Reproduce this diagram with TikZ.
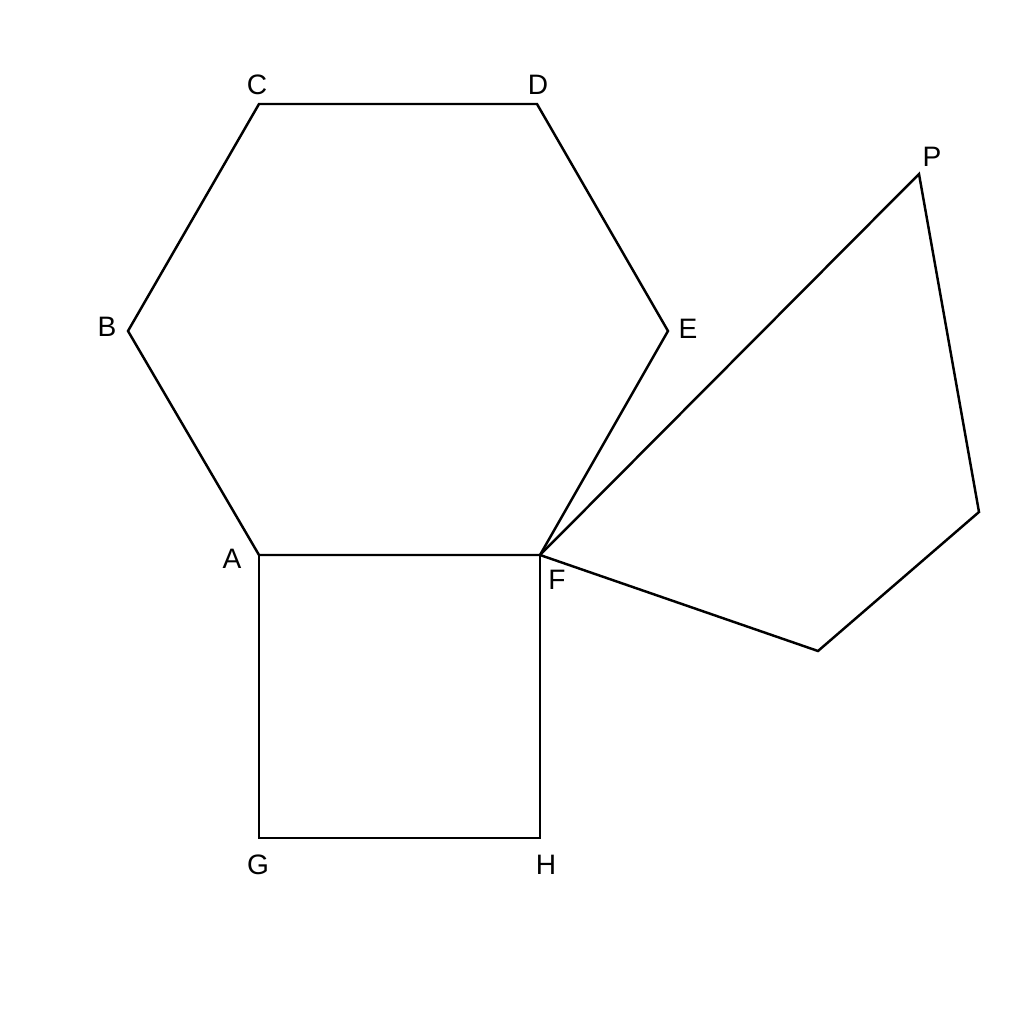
\documentclass[tikz,border=0pt]{standalone}
\usepackage{fontspec}
\setmainfont{Liberation Sans}
\usetikzlibrary{arrows,shapes}

\begin{document}
\begin{tikzpicture}[line width=0.7pt,line join=miter,font=\fontsize{8}{9}\selectfont]
                \useasboundingbox(0,0)rectangle(10.24,10.24);
                \coordinate(A)at(2.59, 4.69);
                \coordinate(B)at(1.28, 6.93);
                \coordinate(C)at(2.59, 9.20);
                \coordinate(D)at(5.37, 9.20);
                \coordinate(E)at(6.68, 6.93);
                \coordinate(F)at(5.40, 4.69);
                \coordinate(G)at(2.59, 1.86);
                \coordinate(H)at(5.40, 1.86);
                \coordinate(P)at(9.19, 8.50);
                \coordinate(Q)at(9.79, 5.12);
                \coordinate(R)at(8.18, 3.73);
                \node[style={}](labA)at(2.32, 4.65){A};
                \node[style={}](labB)at(1.07, 6.97){B};
                \node[style={}](labC)at(2.57, 9.39){C};
                \node[style={}](labD)at(5.38, 9.39){D};
                \node[style={}](labE)at(6.88, 6.95){E};
                \node[style={}](labF)at(5.57, 4.44){F};
                \node[style={}](labG)at(2.58, 1.59){G};
                \node[style={}](labH)at(5.46, 1.59){H};
                \node[style={}](labP)at(9.32, 8.67){P};
                \draw(A)--(B)--(C)--(D)--(E)--(F)--cycle;
                \draw(A)--(G)--(H)--(F);
                \draw(F)--(P)--(Q)--(R)--cycle;
            \end{tikzpicture}
\end{document}
